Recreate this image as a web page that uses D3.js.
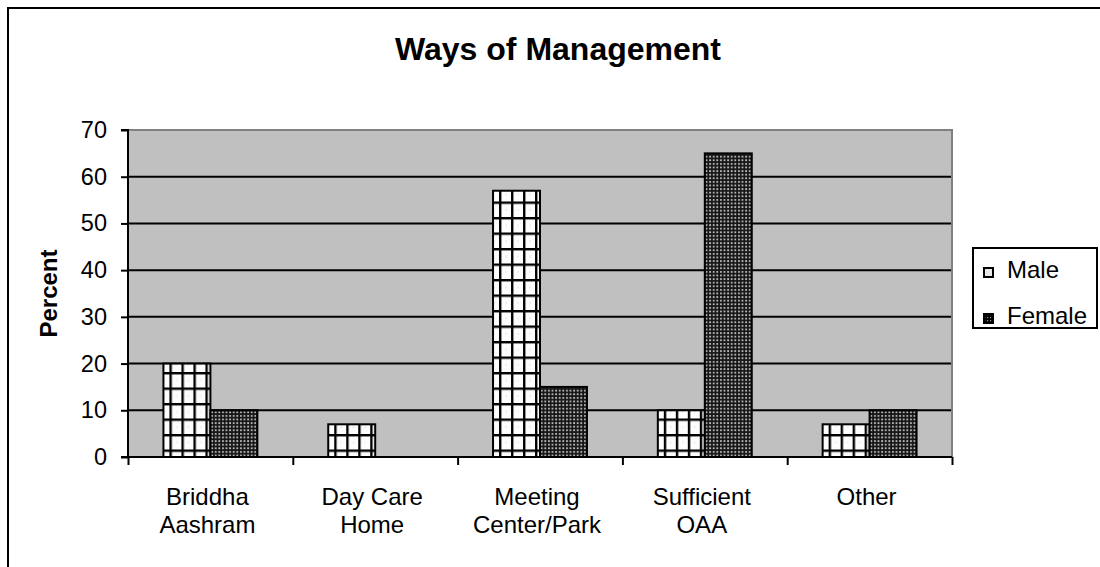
<!DOCTYPE html>
<html>
<head>
<meta charset="utf-8">
<script src="https://cdn.jsdelivr.net/npm/d3@7/dist/d3.min.js"></script>
<style>
  html, body { margin: 0; padding: 0; background: #fff; }
  svg { display: block; }
  text { font-family: "Liberation Sans", Arial, sans-serif; fill: #000; }
</style>
</head>
<body>
<svg id="chart" width="1100" height="567"></svg>
<script>
const categories = [["Briddha", "Aashram"], ["Day Care", "Home"], ["Meeting", "Center/Park"], ["Sufficient", "OAA"], ["Other"]];
const seriesNames = ["Male", "Female"];
const maleValues = [20, 7, 57, 10, 7];
const femaleValues = [10, 0, 15, 65, 10];
const yTicks = [0, 10, 20, 30, 40, 50, 60, 70];
const titleText = "Ways of Management";
const yAxisLabel = "Percent";

const svg = d3.select("#chart");
const W = 1100, H = 567;
const plot = { left: 128, right: 952, top: 130, bottom: 457 };

// patterns
const defs = svg.append("defs");
const pm = defs.append("pattern").attr("id", "pMale").attr("patternUnits", "userSpaceOnUse")
  .attr("width", 12).attr("height", 15.5).attr("x", 162).attr("y", 0);
pm.append("rect").attr("width", 12).attr("height", 15.5).attr("fill", "#fdfdfd");
pm.append("rect").attr("x", 0).attr("y", 0).attr("width", 2.4).attr("height", 15.5).attr("fill", "#000");
pm.append("rect").attr("x", 0).attr("y", 0).attr("width", 12).attr("height", 2.4).attr("fill", "#000");
pm.append("circle").attr("cx", 7).attr("cy", 8.5).attr("r", 0.8).attr("fill", "#ddd");

const pf = defs.append("pattern").attr("id", "pFemale").attr("patternUnits", "userSpaceOnUse")
  .attr("width", 3.6).attr("height", 3.6);
pf.append("rect").attr("width", 3.6).attr("height", 3.6).attr("fill", "#151515");
pf.append("rect").attr("x", 1).attr("y", 1).attr("width", 1.8).attr("height", 1.8).attr("fill", "#c0c0c0");

const pfs = defs.append("pattern").attr("id", "pFemaleSw").attr("patternUnits", "userSpaceOnUse")
  .attr("width", 3).attr("height", 3);
pfs.append("rect").attr("width", 3).attr("height", 3).attr("fill", "#000");
pfs.append("rect").attr("x", 1).attr("y", 1).attr("width", 1.2).attr("height", 1.2).attr("fill", "#999");

// outer border
svg.append("rect").attr("x", 8).attr("y", 8).attr("width", W + 20).attr("height", H + 20)
  .attr("fill", "#fff").attr("stroke", "#000").attr("stroke-width", 2);

// scales
const x0 = d3.scaleBand().domain(d3.range(categories.length))
  .range([plot.left, plot.right]).paddingInner(0.43).paddingOuter(0.215);
const x1 = d3.scaleBand().domain(seriesNames).range([0, x0.bandwidth()]);
const y = d3.scaleLinear().domain([0, 70]).range([plot.bottom, plot.top]);

// plot area
svg.append("rect").attr("x", plot.left).attr("y", plot.top)
  .attr("width", plot.right - plot.left).attr("height", plot.bottom - plot.top)
  .attr("fill", "#c0c0c0");

// gridlines
svg.append("g").selectAll("line").data(yTicks.filter(t => t > 0 && t < 70)).join("line")
  .attr("x1", plot.left).attr("x2", plot.right)
  .attr("y1", d => y(d)).attr("y2", d => y(d))
  .attr("stroke", "#000").attr("stroke-width", 2);

// plot border top/right grey
svg.append("path")
  .attr("d", `M${plot.left},${plot.top}H${plot.right}V${plot.bottom}`)
  .attr("fill", "none").attr("stroke", "#808080").attr("stroke-width", 2);

// bars
const data = categories.map((c, i) => ({ i, vals: [maleValues[i], femaleValues[i]] }));
const groups = svg.append("g").selectAll("g").data(data).join("g")
  .attr("transform", d => `translate(${x0(d.i)},0)`);
groups.selectAll("rect").data(d => d.vals.map((v, k) => ({ k, v })).filter(e => e.v > 0)).join("rect")
  .attr("x", e => x1(seriesNames[e.k]))
  .attr("y", e => y(e.v))
  .attr("width", x1.bandwidth())
  .attr("height", e => y(0) - y(e.v))
  .attr("fill", e => e.k === 0 ? "url(#pMale)" : "url(#pFemale)")
  .attr("stroke", "#000").attr("stroke-width", 2);

// y axis
const yAxis = d3.axisLeft(y).tickValues(yTicks).tickSize(7).tickPadding(14).tickFormat(d3.format("d"));
const gy = svg.append("g").attr("transform", `translate(${plot.left},0)`).call(yAxis);
gy.select(".domain").attr("stroke", "#000").attr("stroke-width", 2).attr("d", `M-7,${plot.top}H0V${plot.bottom}H-7`);
gy.selectAll(".tick line").attr("stroke", "#000").attr("stroke-width", 2);
gy.selectAll(".tick text").attr("font-size", 23.5).attr("font-family", "Liberation Sans, Arial, sans-serif").attr("fill", "#000");

// x axis: ticks at category boundaries
const xb = d3.scaleLinear().domain([0, categories.length]).range([plot.left, plot.right]);
const gx = svg.append("g").attr("transform", `translate(0,${plot.bottom})`)
  .call(d3.axisBottom(xb).tickValues(d3.range(categories.length + 1)).tickSize(8).tickFormat(""));
gx.select(".domain").attr("stroke", "#000").attr("stroke-width", 2).attr("d", `M${plot.left},0H${plot.right}`);
gx.selectAll(".tick line").attr("stroke", "#000").attr("stroke-width", 2);

// x labels
const lab = svg.append("g").selectAll("text").data(categories).join("text")
  .attr("text-anchor", "middle").attr("font-size", 24)
  .attr("x", (d, i) => x0(i) + x0.bandwidth() / 2 - 3).attr("y", 505);
lab.selectAll("tspan").data(d => d).join("tspan")
  .attr("x", function () { return d3.select(this.parentNode).attr("x"); })
  .attr("dy", (d, j) => j === 0 ? 0 : 28)
  .text(d => d);

// title
svg.append("text").attr("x", 558).attr("y", 60).attr("text-anchor", "middle")
  .attr("font-size", 32).attr("font-weight", "bold").text(titleText);

// y label
svg.append("text").attr("transform", `translate(57,${(plot.top + plot.bottom) / 2}) rotate(-90)`)
  .attr("text-anchor", "middle").attr("font-size", 24).attr("font-weight", "bold").text(yAxisLabel);

// legend
const lg = svg.append("g");
lg.append("rect").attr("x", 973).attr("y", 248).attr("width", 124).attr("height", 80)
  .attr("fill", "#fff").attr("stroke", "#000").attr("stroke-width", 2);
const items = lg.selectAll("g.item").data(seriesNames).join("g").attr("class", "item")
  .attr("transform", (d, i) => `translate(983,${267 + i * 46})`);
items.append("rect").attr("x", 0).attr("y", 0).attr("width", 11).attr("height", 11).attr("fill", "#000");
items.append("rect").attr("x", 2).attr("y", 2).attr("width", 7).attr("height", 7)
  .attr("fill", (d, i) => i === 0 ? "#e8e8e8" : "url(#pFemaleSw)");
items.append("text").attr("x", 24).attr("y", 11).attr("font-size", 24).text(d => d);
</script>
</body>
</html>
